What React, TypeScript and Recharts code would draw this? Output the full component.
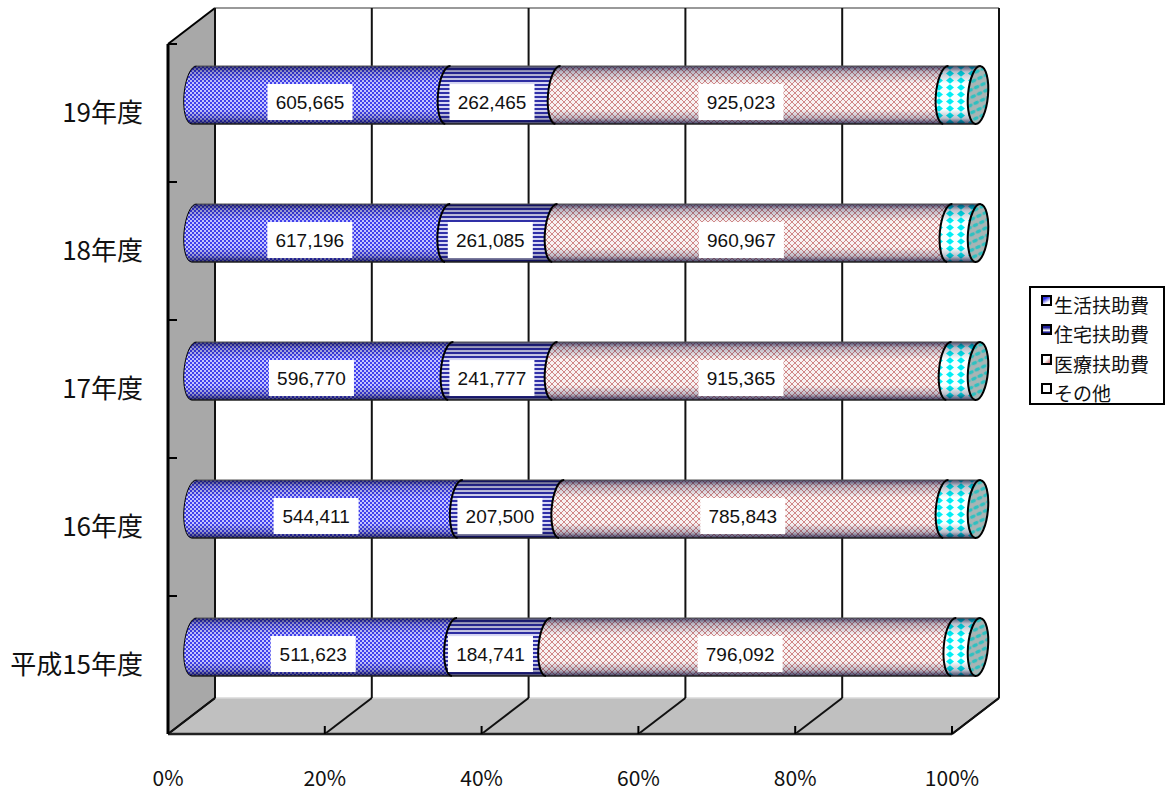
import { BarChart, Bar, XAxis, YAxis, CartesianGrid, Legend, LabelList } from 'recharts';

const categories = ['平成15年度', '16年度', '17年度', '18年度', '19年度'];
const living = [511623, 544411, 596770, 617196, 605665];
const housing = [184741, 207500, 241777, 261085, 262465];
const medical = [796092, 785843, 915365, 960967, 925023];
// not printed in the picture, estimated from the width of the last segment
const other = [47600, 65600, 67400, 68500, 76500];
const percentTicks = [0, 0.2, 0.4, 0.6, 0.8, 1];

const data = categories.map((name, i) => ({
  name,
  生活扶助費: living[i],
  住宅扶助費: housing[i],
  医療扶助費: medical[i],
  その他: other[i],
}));

const FONT = '"Noto Sans CJK JP", sans-serif';
const LABEL_FONT = '"Liberation Sans", sans-serif';

// plot area (front plane of the 3D box)
const LEFT = 168;
const RIGHT = 952;
const TOP = 44;
const BOTTOM = 734;
// depth of the 3D box
const WALL_DX = 47;
const WALL_DY = -36;
// the cylinders stand half way in
const BAR_DX = 26;
const BAR_DY = -18;

const Patterns = () => (
  <defs>
    <pattern id="pBlue" width={4} height={4} patternUnits="userSpaceOnUse">
      <rect width={4} height={4} fill="#c4c4ff" />
      <rect width={2} height={2} fill="#4040ec" />
      <rect x={2} y={2} width={2} height={2} fill="#4040ec" />
    </pattern>
    <pattern id="pNavy" width={4} height={4} patternUnits="userSpaceOnUse">
      <rect width={4} height={4} fill="#d8d8f4" />
      <rect width={4} height={2} fill="#3030a8" />
    </pattern>
    <pattern id="pRed" width={6} height={6} patternUnits="userSpaceOnUse">
      <rect width={6} height={6} fill="#f8f2f2" />
      <path d="M0 0L6 6M6 0L0 6" stroke="#cc7c7c" strokeWidth={0.9} />
    </pattern>
    <pattern id="pCyan" width={11} height={7} patternUnits="userSpaceOnUse">
      <rect width={11} height={7} fill="#f8ffff" />
      <path d="M0 3.5L4 0.3L8 3.5L4 6.7Z" fill="#00eef4" />
    </pattern>
    <pattern id="pCap" width={7} height={7} patternUnits="userSpaceOnUse" patternTransform="rotate(-30)">
      <rect width={7} height={7} fill="#a9b4b4" />
      <ellipse cx={3.5} cy={3.5} rx={3} ry={1.8} fill="#2fc0c0" />
    </pattern>
    <linearGradient id="shade" x1="0" y1="0" x2="0" y2="1">
      <stop offset="0" stopColor="#000030" stopOpacity={0.7} />
      <stop offset="0.1" stopColor="#000030" stopOpacity={0.25} />
      <stop offset="0.3" stopColor="#000030" stopOpacity={0} />
      <stop offset="0.75" stopColor="#000030" stopOpacity={0} />
      <stop offset="0.9" stopColor="#000030" stopOpacity={0.25} />
      <stop offset="1" stopColor="#000030" stopOpacity={0.75} />
    </linearGradient>
    <linearGradient id="mBlue" x1="0" y1="0" x2="0.6" y2="1">
      <stop offset="0.35" stopColor="#3030e8" />
      <stop offset="0.8" stopColor="#ffffff" />
    </linearGradient>
    <linearGradient id="mNavy" x1="0" y1="0" x2="0" y2="1">
      <stop offset="0.3" stopColor="#20209a" />
      <stop offset="0.6" stopColor="#ffffff" />
      <stop offset="0.8" stopColor="#20209a" />
    </linearGradient>
    <linearGradient id="mRed" x1="0" y1="0" x2="1" y2="1">
      <stop offset="0.5" stopColor="#ffffff" />
      <stop offset="1" stopColor="#c04040" />
    </linearGradient>
  </defs>
);

// gray walls and floor, sits under the chart svg
const Box = () => {
  const band = (BOTTOM - TOP) / categories.length;
  return (
    <svg width={1166} height={791} style={{ position: 'absolute', left: 0, top: 0 }}>
      <polygon
        points={`${LEFT},${TOP} ${LEFT + WALL_DX},${TOP + WALL_DY} ${LEFT + WALL_DX},${BOTTOM + WALL_DY} ${LEFT},${BOTTOM}`}
        fill="#a8a8a8"
      />
      <polygon
        points={`${LEFT},${BOTTOM} ${LEFT + WALL_DX},${BOTTOM + WALL_DY} ${RIGHT + WALL_DX},${BOTTOM + WALL_DY} ${RIGHT},${BOTTOM}`}
        fill="#c0c0c0"
      />
      <line x1={LEFT + WALL_DX} y1={TOP + WALL_DY} x2={RIGHT + WALL_DX} y2={TOP + WALL_DY} stroke="#999" strokeWidth={2} />
      <line x1={LEFT} y1={TOP} x2={LEFT + WALL_DX} y2={TOP + WALL_DY} stroke="#000" strokeWidth={2} />
      <line x1={LEFT + WALL_DX} y1={BOTTOM + WALL_DY} x2={RIGHT + WALL_DX} y2={BOTTOM + WALL_DY} stroke="#d8d8d8" strokeWidth={1.5} />
      {/* the grid leaves out its first and last line */}
      {[LEFT, RIGHT].map((x) => (
        <g key={x}>
          <line x1={x + WALL_DX} x2={x + WALL_DX} y1={TOP + WALL_DY} y2={BOTTOM + WALL_DY} stroke="#111" strokeWidth={2} />
          <line x1={x} x2={x + WALL_DX} y1={BOTTOM} y2={BOTTOM + WALL_DY} stroke="#111" strokeWidth={2} />
        </g>
      ))}
      {categories.concat('').map((_, i) => (
        <line key={i} x1={LEFT} x2={LEFT + 9} y1={TOP + i * band} y2={TOP + i * band} stroke="#000" strokeWidth={2} />
      ))}
    </svg>
  );
};

const GridLine = (props: any) => {
  const { x1, y2, key } = props;
  return (
    <g key={key}>
      <line x1={x1 + WALL_DX} x2={x1 + WALL_DX} y1={TOP + WALL_DY} y2={y2 + WALL_DY} stroke="#111" strokeWidth={2} />
      <line x1={x1} x2={x1 + WALL_DX} y1={y2} y2={y2 + WALL_DY} stroke="#111" strokeWidth={2} />
    </g>
  );
};

const CYL_RX = 10;
const TILT = 5;

const Cylinder = (props: any) => {
  const { x, y, width, height, fill, cap } = props;
  const x0 = x + BAR_DX;
  const x1 = x0 + width;
  const top = y + BAR_DY;
  const bottom = top + height;
  const ry = height / 2;
  const lean = ry * Math.sin((TILT * Math.PI) / 180);
  const arc = `A${CYL_RX} ${ry} ${TILT} 0 0`;
  const d = `M${x0 + lean} ${top}L${x1 + lean} ${top}${arc} ${x1 - lean} ${bottom}L${x0 - lean} ${bottom}A${CYL_RX} ${ry} ${TILT} 0 1 ${x0 + lean} ${top}Z`;
  return (
    <g>
      <path d={d} fill={fill} />
      <path d={d} fill="url(#shade)" />
      <line x1={x0 + lean} x2={x1 + lean} y1={top} y2={top} stroke="#555" strokeWidth={1.2} />
      <line x1={x0 - lean} x2={x1 - lean} y1={bottom} y2={bottom} stroke="#222" strokeWidth={1.4} />
      <path d={`M${x0 + lean} ${top}${arc} ${x0 - lean} ${bottom}`} fill="none" stroke="#000" strokeWidth={props.first ? 1 : 2} />
      {cap && (
        <ellipse
          cx={x1}
          cy={top + ry}
          rx={CYL_RX}
          ry={ry}
          transform={`rotate(${TILT} ${x1} ${top + ry})`}
          fill="url(#pCap)"
          stroke="#000"
          strokeWidth={2}
        />
      )}
    </g>
  );
};

const ValueLabel = (props: any) => {
  const { x, y, width, height, value } = props;
  const cx = x + BAR_DX + width / 2 - 11;
  const cy = y + BAR_DY + height / 2 + 7;
  return (
    <g>
      <rect x={cx - 42.5} y={cy - 18} width={85} height={36} fill="#fff" />
      <text x={cx} y={cy} dy="0.36em" textAnchor="middle" fontFamily={LABEL_FONT} fontSize={19} fill="#111">
        {Number(value).toLocaleString('en-US')}
      </text>
    </g>
  );
};

const XTick = (props: any) => {
  const { x, payload } = props;
  return (
    <g>
      <line x1={x} x2={x} y1={BOTTOM} y2={BOTTOM - 8} stroke="#000" strokeWidth={2} />
      <text x={x} y={778} dy="0.36em" textAnchor="middle" fontFamily={FONT} fontSize={21} fill="#111">
        {Math.round(payload.value * 100)}%
      </text>
    </g>
  );
};

const YTick = (props: any) => {
  const { y, payload } = props;
  return (
    <text x={143} y={y} dy="0.36em" textAnchor="end" fontFamily={FONT} fontSize={26} fill="#111">
      {payload.value}
    </text>
  );
};

const markerFills: Record<string, string> = {
  生活扶助費: 'url(#mBlue)',
  住宅扶助費: 'url(#mNavy)',
  医療扶助費: 'url(#mRed)',
  その他: '#fff',
};

const LegendBox = (props: any) => (
  <div
    style={{
      boxSizing: 'border-box',
      width: 136,
      height: 119,
      border: '2px solid #000',
      background: '#fff',
      position: 'relative',
    }}
  >
    {(props.payload || []).map((item: any, i: number) => (
      <div key={item.value}>
        <svg width={11} height={11} style={{ position: 'absolute', left: 10, top: 7 + i * 29.3 }}>
          <rect x={1} y={1} width={9} height={9} fill={markerFills[item.value]} stroke="#000" strokeWidth={2} />
        </svg>
        <span
          style={{
            position: 'absolute',
            left: 23,
            top: 3 + i * 29.3,
            fontFamily: FONT,
            fontSize: 19,
            lineHeight: '28px',
            color: '#111',
            whiteSpace: 'nowrap',
          }}
        >
          {item.value}
        </span>
      </div>
    ))}
  </div>
);

export default function App() {
  return (
    <div style={{ position: 'absolute', left: 0, top: 0, width: 1166, height: 791, background: '#fff' }}>
      <Box />
      <div style={{ position: 'absolute', left: 0, top: 0 }}>
        <BarChart
          width={1166}
          height={791}
          data={data}
          layout="vertical"
          stackOffset="expand"
          barCategoryGap="29%"
          margin={{ top: TOP, right: 1166 - RIGHT, bottom: 0, left: 0 }}
        >
          <Patterns />
          <CartesianGrid horizontal={false} vertical={GridLine} />
          <XAxis
            type="number"
            domain={[0, 1]}
            ticks={percentTicks}
            height={791 - BOTTOM}
            tickLine={false}
            tick={XTick}
            axisLine={{ stroke: '#222', strokeWidth: 2.5 }}
            interval={0}
          />
          <YAxis
            type="category"
            dataKey="name"
            reversed
            width={LEFT}
            tickLine={false}
            tick={YTick}
            axisLine={{ stroke: '#000', strokeWidth: 3 }}
            interval={0}
          />
          <Legend
            layout="vertical"
            align="center"
            verticalAlign="middle"
            itemSorter={null}
            content={LegendBox}
            wrapperStyle={{ position: 'absolute', left: 1029, top: 286, width: 136, height: 119 }}
          />
          <Bar dataKey="生活扶助費" stackId="a" isAnimationActive={false} fill="#2a2ae0"
            shape={(p: any) => <Cylinder {...p} fill="url(#pBlue)" first />}>
            <LabelList dataKey="生活扶助費" content={ValueLabel} />
          </Bar>
          <Bar dataKey="住宅扶助費" stackId="a" isAnimationActive={false} fill="#2a2a90"
            shape={(p: any) => <Cylinder {...p} fill="url(#pNavy)" />}>
            <LabelList dataKey="住宅扶助費" content={ValueLabel} />
          </Bar>
          <Bar dataKey="医療扶助費" stackId="a" isAnimationActive={false} fill="#e8c8c8"
            shape={(p: any) => <Cylinder {...p} fill="url(#pRed)" />}>
            <LabelList dataKey="医療扶助費" content={ValueLabel} />
          </Bar>
          <Bar dataKey="その他" stackId="a" isAnimationActive={false} fill="#00e8f0"
            shape={(p: any) => <Cylinder {...p} fill="url(#pCyan)" cap />} />
        </BarChart>
      </div>
    </div>
  );
}
